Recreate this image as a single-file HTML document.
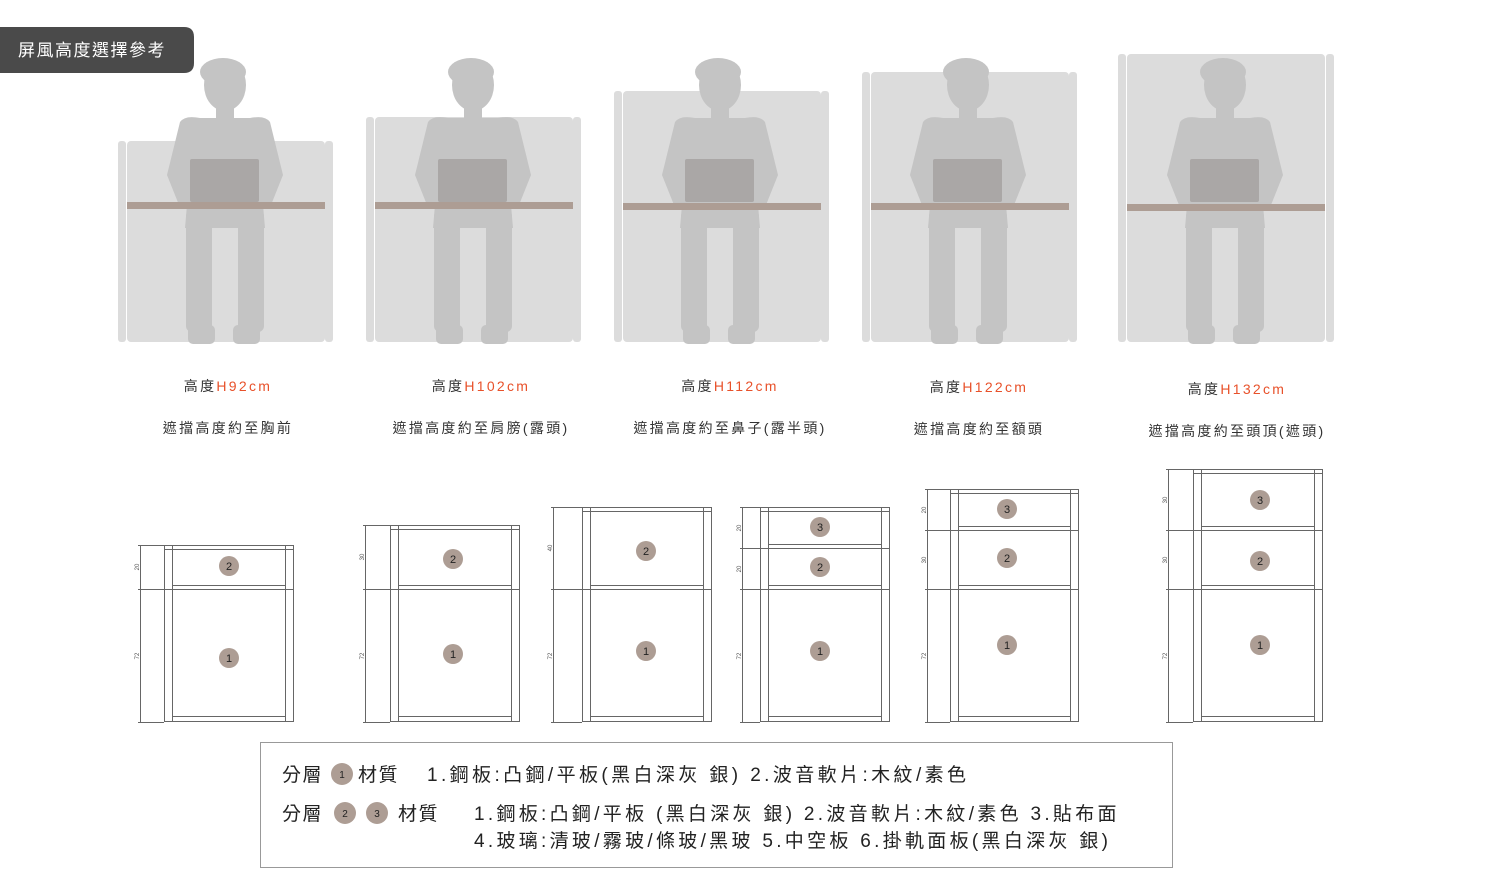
<!DOCTYPE html>
<html><head><meta charset="utf-8"><style>
body{margin:0;background:#fff;width:1490px;height:888px;overflow:hidden;font-family:"Liberation Sans","Noto Sans CJK TC",sans-serif;}
</style></head><body>
<svg width="1490" height="888" xmlns="http://www.w3.org/2000/svg" font-family="'Liberation Sans','Noto Sans CJK TC',sans-serif">
<defs>
<g id="person">
  <ellipse cx="0" cy="85" rx="21" ry="26" fill="#c4c4c4"/>
  <ellipse cx="-2" cy="72" rx="23" ry="14" fill="#c4c4c4"/>
  <rect x="-9" y="104" width="18" height="16" fill="#c4c4c4"/>
  <path d="M-45,122 Q-40,115 -25,118 L25,118 Q40,115 45,122 L58,175 L46,205 L38,205 L40,228 L-40,228 L-38,205 L-46,205 L-58,175 Z" fill="#c4c4c4"/>
  <rect x="-39" y="210" width="26" height="122" rx="6" fill="#c4c4c4"/>
  <rect x="13" y="210" width="26" height="122" rx="6" fill="#c4c4c4"/>
  <rect x="-37" y="325" width="27" height="19" rx="5" fill="#c4c4c4"/>
  <rect x="8" y="325" width="27" height="19" rx="5" fill="#c4c4c4"/>
  <rect x="-35" y="159" width="69" height="43" rx="2" fill="#aaa7a6"/>
</g>
</defs>

<path d="M0,27 H184 Q194,27 194,37 V63 Q194,73 184,73 H0 Z" fill="#4a4a4a"/>
<text x="18" y="56" font-size="17" fill="#fff" letter-spacing="1.5">屏風高度選擇參考</text>

<g>
<rect x="127" y="141" width="198" height="201" rx="4" fill="#dcdcdc"/>
<rect x="118" y="141" width="8" height="201" rx="3" fill="#dcdcdc"/><rect x="325" y="141" width="8" height="201" rx="3" fill="#dcdcdc"/>
<use href="#person" transform="translate(225,0)"/>
<rect x="127" y="202" width="198" height="7" fill="#ad9d94"/>
</g>
<g>
<rect x="375" y="117" width="198" height="225" rx="4" fill="#dcdcdc"/>
<rect x="366" y="117" width="8" height="225" rx="3" fill="#dcdcdc"/><rect x="573" y="117" width="8" height="225" rx="3" fill="#dcdcdc"/>
<use href="#person" transform="translate(473,0)"/>
<rect x="375" y="202" width="198" height="7" fill="#ad9d94"/>
</g>
<g>
<rect x="623" y="91" width="198" height="251" rx="4" fill="#dcdcdc"/>
<rect x="614" y="91" width="8" height="251" rx="3" fill="#dcdcdc"/><rect x="821" y="91" width="8" height="251" rx="3" fill="#dcdcdc"/>
<use href="#person" transform="translate(720,0)"/>
<rect x="623" y="203" width="198" height="7" fill="#ad9d94"/>
</g>
<g>
<rect x="871" y="72" width="198" height="270" rx="4" fill="#dcdcdc"/>
<rect x="862" y="72" width="8" height="270" rx="3" fill="#dcdcdc"/><rect x="1069" y="72" width="8" height="270" rx="3" fill="#dcdcdc"/>
<use href="#person" transform="translate(968,0)"/>
<rect x="871" y="203" width="198" height="7" fill="#ad9d94"/>
</g>
<g>
<rect x="1127" y="54" width="198" height="288" rx="4" fill="#dcdcdc"/>
<rect x="1118" y="54" width="8" height="288" rx="3" fill="#dcdcdc"/><rect x="1326" y="54" width="8" height="288" rx="3" fill="#dcdcdc"/>
<use href="#person" transform="translate(1225,0)"/>
<rect x="1127" y="204" width="198" height="7" fill="#ad9d94"/>
</g>

<g font-size="14" fill="#333" text-anchor="middle" letter-spacing="2.3">
<text x="228" y="391">高度<tspan fill="#e8512a">H92cm</tspan></text>
<text x="228" y="433">遮擋高度約至胸前</text>
<text x="481" y="391">高度<tspan fill="#e8512a">H102cm</tspan></text>
<text x="481" y="433">遮擋高度約至肩膀(露頭)</text>
<text x="730" y="391">高度<tspan fill="#e8512a">H112cm</tspan></text>
<text x="730" y="433">遮擋高度約至鼻子(露半頭)</text>
<text x="979" y="392">高度<tspan fill="#e8512a">H122cm</tspan></text>
<text x="979" y="434">遮擋高度約至額頭</text>
<text x="1237" y="394">高度<tspan fill="#e8512a">H132cm</tspan></text>
<text x="1237" y="436">遮擋高度約至頭頂(遮頭)</text>
</g>

<g stroke="#666" stroke-width="1" fill="none">
<rect x="164.5" y="545.5" width="129" height="176"/><line x1="172.5" y1="545" x2="172.5" y2="721"/><line x1="285.5" y1="545" x2="285.5" y2="721"/>
<line x1="164" y1="549.5" x2="293" y2="549.5"/><line x1="172" y1="585.5" x2="285" y2="585.5"/><line x1="138" y1="589.5" x2="293" y2="589.5"/><line x1="172" y1="716.5" x2="285" y2="716.5"/>
<line x1="140.5" y1="545" x2="140.5" y2="722"/><line x1="138" y1="545.5" x2="164" y2="545.5"/><line x1="138" y1="722.5" x2="164" y2="722.5"/>
<rect x="390.5" y="525.5" width="129" height="196"/><line x1="398.5" y1="525" x2="398.5" y2="721"/><line x1="511.5" y1="525" x2="511.5" y2="721"/>
<line x1="390" y1="529.5" x2="519" y2="529.5"/><line x1="398" y1="585.5" x2="511" y2="585.5"/><line x1="363" y1="589.5" x2="519" y2="589.5"/><line x1="398" y1="716.5" x2="511" y2="716.5"/>
<line x1="365.5" y1="525" x2="365.5" y2="722"/><line x1="363" y1="525.5" x2="390" y2="525.5"/><line x1="363" y1="722.5" x2="390" y2="722.5"/>
<rect x="582.5" y="507.5" width="129" height="214"/><line x1="590.5" y1="507" x2="590.5" y2="721"/><line x1="703.5" y1="507" x2="703.5" y2="721"/>
<line x1="582" y1="511.5" x2="711" y2="511.5"/><line x1="590" y1="585.5" x2="703" y2="585.5"/><line x1="551" y1="589.5" x2="711" y2="589.5"/><line x1="590" y1="716.5" x2="703" y2="716.5"/>
<line x1="553.5" y1="507" x2="553.5" y2="722"/><line x1="551" y1="507.5" x2="582" y2="507.5"/><line x1="551" y1="722.5" x2="582" y2="722.5"/>
<rect x="760.5" y="507.5" width="129" height="214"/><line x1="768.5" y1="507" x2="768.5" y2="721"/><line x1="881.5" y1="507" x2="881.5" y2="721"/>
<line x1="760" y1="511.5" x2="889" y2="511.5"/><line x1="768" y1="544.5" x2="881" y2="544.5"/><line x1="740" y1="548.5" x2="889" y2="548.5"/><line x1="768" y1="585.5" x2="881" y2="585.5"/><line x1="740" y1="589.5" x2="889" y2="589.5"/><line x1="768" y1="716.5" x2="881" y2="716.5"/>
<line x1="742.5" y1="507" x2="742.5" y2="722"/><line x1="740" y1="507.5" x2="760" y2="507.5"/><line x1="740" y1="722.5" x2="760" y2="722.5"/>
<rect x="950.5" y="489.5" width="128" height="232"/><line x1="958.5" y1="489" x2="958.5" y2="721"/><line x1="1070.5" y1="489" x2="1070.5" y2="721"/>
<line x1="950" y1="493.5" x2="1078" y2="493.5"/><line x1="958" y1="526.5" x2="1070" y2="526.5"/><line x1="925" y1="530.5" x2="1078" y2="530.5"/><line x1="958" y1="585.5" x2="1070" y2="585.5"/><line x1="925" y1="589.5" x2="1078" y2="589.5"/><line x1="958" y1="716.5" x2="1070" y2="716.5"/>
<line x1="927.5" y1="489" x2="927.5" y2="722"/><line x1="925" y1="489.5" x2="950" y2="489.5"/><line x1="925" y1="722.5" x2="950" y2="722.5"/>
<rect x="1193.5" y="469.5" width="129" height="252"/><line x1="1201.5" y1="469" x2="1201.5" y2="721"/><line x1="1314.5" y1="469" x2="1314.5" y2="721"/>
<line x1="1193" y1="473.5" x2="1322" y2="473.5"/><line x1="1201" y1="526.5" x2="1314" y2="526.5"/><line x1="1166" y1="530.5" x2="1322" y2="530.5"/><line x1="1201" y1="585.5" x2="1314" y2="585.5"/><line x1="1166" y1="589.5" x2="1322" y2="589.5"/><line x1="1201" y1="716.5" x2="1314" y2="716.5"/>
<line x1="1168.5" y1="469" x2="1168.5" y2="722"/><line x1="1166" y1="469.5" x2="1193" y2="469.5"/><line x1="1166" y1="722.5" x2="1193" y2="722.5"/>
</g>
<g font-size="6" fill="#555" text-anchor="middle">
<text transform="translate(139,567) rotate(-90)">20</text><text transform="translate(139,656) rotate(-90)">72</text>
<text transform="translate(364,557) rotate(-90)">30</text><text transform="translate(364,656) rotate(-90)">72</text>
<text transform="translate(552,548) rotate(-90)">40</text><text transform="translate(552,656) rotate(-90)">72</text>
<text transform="translate(741,528) rotate(-90)">20</text><text transform="translate(741,569) rotate(-90)">20</text><text transform="translate(741,656) rotate(-90)">72</text>
<text transform="translate(926,510) rotate(-90)">20</text><text transform="translate(926,560) rotate(-90)">30</text><text transform="translate(926,656) rotate(-90)">72</text>
<text transform="translate(1167,500) rotate(-90)">30</text><text transform="translate(1167,560) rotate(-90)">30</text><text transform="translate(1167,656) rotate(-90)">72</text>
</g>
<g font-size="11" text-anchor="middle">
<g fill="#ad9d94"><circle cx="229" cy="566" r="10"/><circle cx="229" cy="658" r="10"/>
<circle cx="453" cy="559" r="10"/><circle cx="453" cy="654" r="10"/>
<circle cx="646" cy="551" r="10"/><circle cx="646" cy="651" r="10"/>
<circle cx="820" cy="527" r="10"/><circle cx="820" cy="567" r="10"/><circle cx="820" cy="651" r="10"/>
<circle cx="1007" cy="509" r="10"/><circle cx="1007" cy="558" r="10"/><circle cx="1007" cy="645" r="10"/>
<circle cx="1260" cy="500" r="10"/><circle cx="1260" cy="561" r="10"/><circle cx="1260" cy="645" r="10"/></g>
<g fill="#222">
<text x="229" y="570">2</text><text x="229" y="662">1</text>
<text x="453" y="563">2</text><text x="453" y="658">1</text>
<text x="646" y="555">2</text><text x="646" y="655">1</text>
<text x="820" y="531">3</text><text x="820" y="571">2</text><text x="820" y="655">1</text>
<text x="1007" y="513">3</text><text x="1007" y="562">2</text><text x="1007" y="649">1</text>
<text x="1260" y="504">3</text><text x="1260" y="565">2</text><text x="1260" y="649">1</text>
</g></g>

<rect x="260.5" y="742.5" width="912" height="125" fill="none" stroke="#999"/>
<g font-size="19" fill="#222" letter-spacing="1.5">
<text x="282" y="781">分層</text>
<circle cx="342" cy="774" r="11" fill="#ad9d94"/><text x="342" y="778" font-size="10" text-anchor="middle" letter-spacing="0">1</text>
<text x="358" y="781">材質</text>
<text x="427" y="781" letter-spacing="3.4">1.鋼板:凸鋼/平板(黑白深灰 銀) 2.波音軟片:木紋/素色</text>
<text x="282" y="820">分層</text>
<circle cx="345" cy="813" r="11" fill="#ad9d94"/><text x="345" y="817" font-size="10" text-anchor="middle" letter-spacing="0">2</text>
<circle cx="377" cy="813" r="11" fill="#ad9d94"/><text x="377" y="817" font-size="10" text-anchor="middle" letter-spacing="0">3</text>
<text x="398" y="820">材質</text>
<text x="474" y="820" letter-spacing="3.3">1.鋼板:凸鋼/平板 (黑白深灰 銀) 2.波音軟片:木紋/素色 3.貼布面</text>
<text x="474" y="847" letter-spacing="3.3">4.玻璃:清玻/霧玻/條玻/黑玻 5.中空板 6.掛軌面板(黑白深灰 銀)</text>
</g>
</svg>
</body></html>
